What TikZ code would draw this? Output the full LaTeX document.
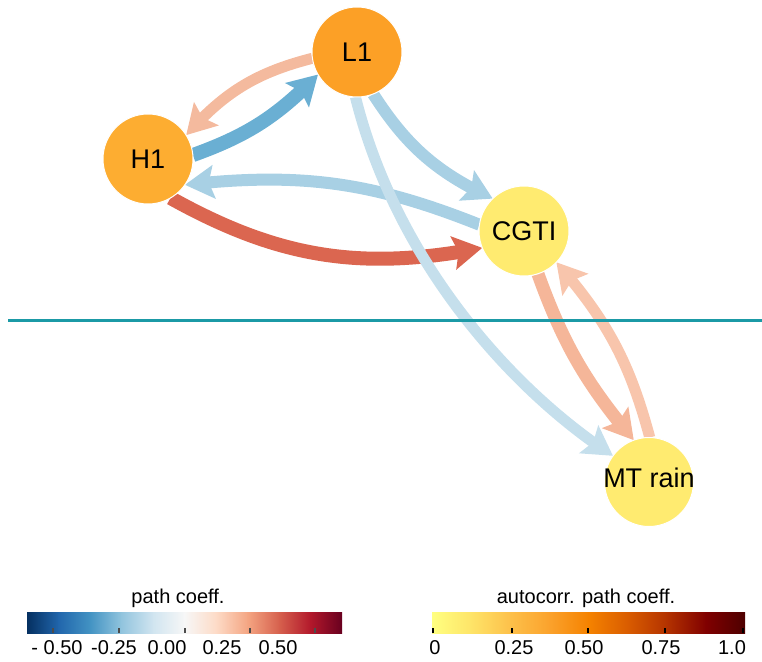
\documentclass[tikz,border=0pt]{standalone}
\usepackage{fontspec}
\setmainfont{Liberation Sans}
\usetikzlibrary{arrows.meta,bending}
\pgfdeclarelayer{bg}
\pgfsetlayers{bg,main}
\definecolor{nodeL}{HTML}{FCA026}
\definecolor{nodeH}{HTML}{FDAD31}
\definecolor{nodeY}{HTML}{FFEB70}
\definecolor{eSalmon}{HTML}{F4BA9E}
\definecolor{eSalmonB}{HTML}{F5B699}
\definecolor{eSalmonL}{HTML}{F8C5AC}
\definecolor{eBlue}{HTML}{6AAFD3}
\definecolor{eLBlue}{HTML}{A8D0E4}
\definecolor{eVLBlue}{HTML}{C5DFEC}
\definecolor{eRed}{HTML}{DB6650}
\definecolor{teal}{HTML}{1B9AA6}
\definecolor{rb0}{HTML}{053061}
\definecolor{rb1}{HTML}{2166AC}
\definecolor{rb2}{HTML}{4393C3}
\definecolor{rb3}{HTML}{92C5DE}
\definecolor{rb4}{HTML}{D1E5F0}
\definecolor{rb5}{HTML}{F7F7F7}
\definecolor{rb6}{HTML}{FDDBC7}
\definecolor{rb7}{HTML}{F4A582}
\definecolor{rb8}{HTML}{D6604D}
\definecolor{rb9}{HTML}{B2182B}
\definecolor{rb10}{HTML}{67001F}
\definecolor{yo0}{HTML}{FFFF80}
\definecolor{yo1}{HTML}{FEE468}
\definecolor{yo2}{HTML}{FDC04A}
\definecolor{yo3}{HTML}{FBA22C}
\definecolor{yo4}{HTML}{F58200}
\definecolor{yo5}{HTML}{D95C00}
\definecolor{yo6}{HTML}{B33200}
\definecolor{yo7}{HTML}{800000}
\definecolor{yo8}{HTML}{4D0000}
\begin{document}
\begin{tikzpicture}[x=1pt,y=1pt,
  var/.style={circle,draw=white,line width=1pt,minimum size=90pt,inner sep=0pt,outer sep=0pt,font=\fontsize{27}{32}\selectfont},
  pathline/.style={line width=#1,line cap=butt,-{Stealth[length=29pt,width=33pt,inset=5pt]}},
  leglab/.style={font=\fontsize{20}{24}\selectfont,inner sep=0pt,anchor=base},
  tickmk/.style={line width=1.6pt}]
\useasboundingbox (0,0) rectangle (762,661);

% separator line
\coordinate (sepL) at (8,340);
\coordinate (sepR) at (762,340);
\draw[teal,line width=3pt] (sepL) -- (sepR);

% nodes
\node[var,fill=nodeL] (L1) at (357,609) {L1};
\node[var,fill=nodeH] (H1) at (148,502) {H1};
\node[var,fill=nodeY] (CGTI) at (524,430) {CGTI};
\node[var,fill=nodeY,minimum size=89pt,label={[font=\fontsize{27}{32}\selectfont,inner sep=0pt,yshift=4pt]center:MT rain}] (MT) at (649,179) {};

% edges
\begin{pgfonlayer}{bg}
\draw[pathline=11pt,eSalmon] (L1.188) to[bend right=17] (H1.32);
\draw[pathline=14pt,eBlue] (H1.5) to[bend right=13] (L1.210);
\draw[pathline=12pt,eLBlue] (CGTI.172) to[bend right=14] (H1.-35);
\draw[pathline=14pt,eRed] (H1.-60) to[bend right=20] (CGTI.202);
\draw[pathline=12pt,eLBlue] (L1.-69) to[bend right=16] (CGTI.134);
\draw[pathline=11pt,eVLBlue] (L1.268) to[out=-76,in=147,out distance=170pt,in distance=120pt] (MT.144);
\draw[pathline=13pt,eSalmonB] (CGTI.-72) to[bend right=10] (MT.110);
\draw[pathline=11pt,eSalmonL] (MT.89) to[bend right=13] (CGTI.-44);
\end{pgfonlayer}

% legend 1
\node[leglab] (t1) at (178,58) {path coeff.};
\begin{scope}
\clip (27,28) rectangle (342,49);
\foreach \a/\b [count=\i from 0] in {rb0/rb1,rb1/rb2,rb2/rb3,rb3/rb4,rb4/rb5,rb5/rb6,rb6/rb7,rb7/rb8,rb8/rb9,rb9/rb10}
  \shade[left color=\a,right color=\b] ({27+31.5*\i},28) rectangle ({27+31.5*(\i+1)+0.6},49);
\end{scope}
\foreach \x in {53,119,185,250,315}
  \draw[tickmk,black!70] (\x,28) -- (\x,33);
\node[leglab] (a1) at (57,7) {- 0.50};
\node[leglab] (a2) at (114,7) {-0.25};
\node[leglab] (a3) at (167,7) {0.00};
\node[leglab] (a4) at (222,7) {0.25};
\node[leglab] (a5) at (278,7) {0.50};

% legend 2
\node[leglab] (t2) at (586,58) {autocorr. path coeff.};
\begin{scope}
\clip (432,28) rectangle (745,49);
\foreach \a/\b [count=\i from 0] in {yo0/yo1,yo1/yo2,yo2/yo3,yo3/yo4,yo4/yo5,yo5/yo6,yo6/yo7,yo7/yo8}
  \shade[left color=\a,right color=\b] ({432+39.125*\i},28) rectangle ({432+39.125*(\i+1)+0.6},49);
\end{scope}
\foreach \x in {433,512,588,665,743}
  \draw[tickmk,black] (\x,28) -- (\x,33);
\node[leglab] (b1) at (435,7) {0};
\node[leglab] (b2) at (514,7) {0.25};
\node[leglab] (b3) at (584,7) {0.50};
\node[leglab] (b4) at (661,7) {0.75};
\node[leglab] (b5) at (732,7) {1.0};
\end{tikzpicture}
\end{document}
